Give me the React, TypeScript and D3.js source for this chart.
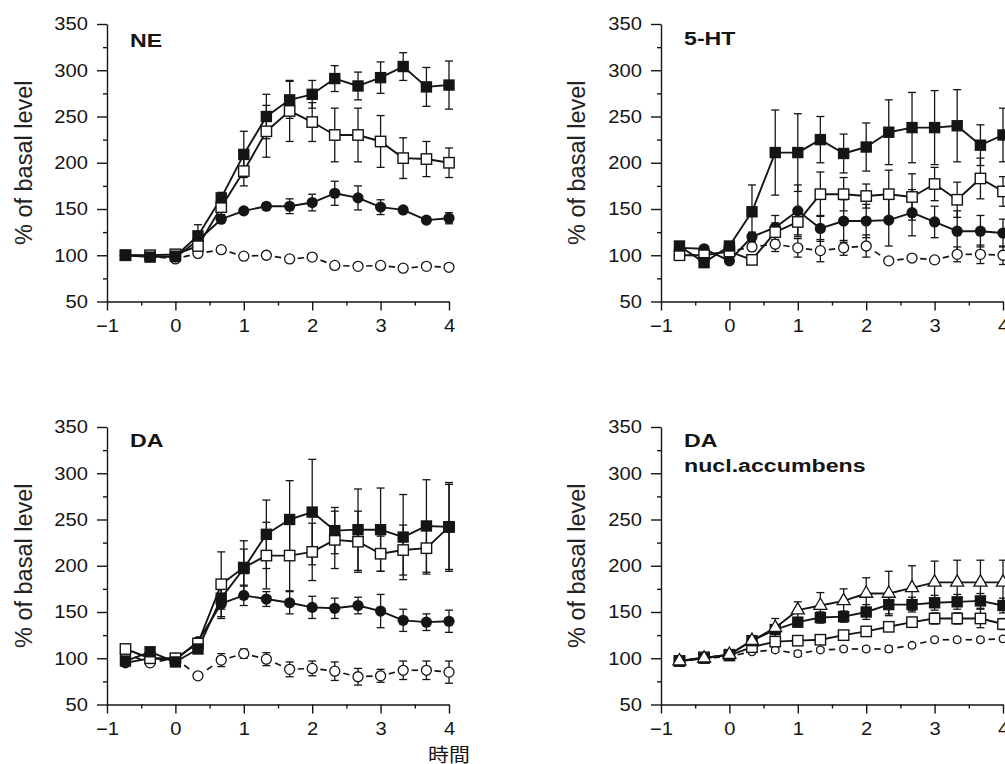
import { useEffect, useRef } from "react";
import * as d3 from "d3";

// sampling times in hours, drug given at t = 0
const TIME = [-0.73, -0.37, 0, 0.33, 0.67, 1, 1.33, 1.67, 2, 2.33, 2.67, 3, 3.33, 3.67, 4];

const Y_TICKS = [50, 100, 150, 200, 250, 300, 350];
const Y_MINOR = [75, 125, 175, 225, 275, 325];
const X_TICKS = [-1, 0, 1, 2, 3, 4];
const X_MINOR = [-0.5, 0.5, 1.5, 2.5, 3.5];

const Y_LABEL = "% of basal level";
const X_LABEL = "時間";

// NE
const neFilledSq = [100, 98, 99, 121, 162, 209, 250, 268, 274, 291, 283, 292, 304, 282, 284];
const neFilledSqErr = [2, 2, 2, 12, 6, 25, 24, 20, 15, 14, 15, 17, 15, 21, 26];
const neOpenSq = [100, 100, 101, 110, 152, 191, 234, 256, 244, 230, 230, 223, 205, 204, 200];
const neOpenSqErr = [2, 2, 2, 5, 8, 16, 28, 33, 21, 29, 29, 28, 22, 19, 16];
const neFilledCirc = [100, 99, 98, 116, 139, 148, 153, 153, 157, 167, 162, 152, 149, 138, 140];
const neFilledCircErr = [1, 1, 1, 2, 3, 3, 3, 8, 9, 13, 13, 8, 3, 3, 6];
const neOpenCirc = [100, 99, 96, 102, 106, 99, 100, 96, 98, 89, 88, 89, 86, 88, 87];
const neOpenCircErr = [0, 0, 0, 0, 0, 0, 0, 0, 0, 0, 0, 0, 0, 0, 0];

// 5-HT
const htFilledSq = [110, 92, 110, 147, 211, 211, 225, 210, 217, 233, 238, 238, 240, 219, 230];
const htFilledSqErr = [3, 3, 3, 29, 46, 42, 25, 21, 26, 35, 38, 40, 39, 22, 29];
const htOpenSq = [100, 100, 104, 95, 125, 136, 166, 166, 164, 166, 163, 177, 160, 183, 169];
const htOpenSqErr = [2, 2, 2, 3, 10, 14, 24, 18, 13, 26, 25, 18, 19, 22, 16];
const htFilledCirc = [108, 107, 94, 120, 130, 148, 129, 137, 137, 138, 146, 136, 126, 126, 124];
const htFilledCircErr = [2, 2, 2, 5, 13, 28, 14, 23, 18, 28, 25, 17, 22, 17, 15];
const htOpenCirc = [100, 100, 104, 109, 112, 108, 105, 108, 110, 94, 97, 95, 101, 101, 100];
const htOpenCircErr = [1, 1, 1, 4, 8, 10, 12, 8, 12, 3, 3, 3, 8, 10, 10];

// DA
const daFilledSq = [97, 107, 96, 110, 165, 197, 234, 250, 258, 238, 239, 239, 231, 243, 242];
const daFilledSqErr = [2, 2, 2, 4, 12, 30, 37, 42, 57, 25, 44, 45, 46, 50, 46];
const daOpenSq = [110, 100, 100, 116, 180, 198, 211, 211, 215, 228, 226, 213, 217, 219, 242];
const daOpenSqErr = [2, 2, 2, 4, 35, 20, 36, 38, 31, 31, 33, 19, 27, 28, 48];
const daFilledCirc = [95, 100, 98, 118, 159, 168, 164, 160, 155, 154, 157, 151, 141, 139, 140];
const daFilledCircErr = [2, 2, 2, 3, 16, 11, 8, 12, 12, 11, 9, 18, 12, 9, 12];
const daOpenCirc = [105, 95, 100, 81, 98, 105, 99, 88, 89, 86, 80, 81, 87, 87, 85];
const daOpenCircErr = [2, 2, 2, 3, 7, 5, 7, 8, 8, 10, 9, 7, 10, 10, 12];

// DA, nucl. accumbens
const naTriangle = [97, 100, 104, 119, 133, 152, 157, 162, 170, 170, 176, 182, 182, 182, 182];
const naTriangleErr = [1, 1, 1, 3, 10, 9, 14, 13, 17, 24, 24, 23, 24, 24, 24];
const naFilledSq = [97, 100, 104, 119, 131, 139, 144, 145, 150, 158, 158, 160, 161, 162, 157];
const naFilledSqErr = [1, 1, 1, 3, 5, 5, 6, 6, 8, 10, 8, 8, 8, 8, 8];
const naOpenSq = [97, 101, 103, 112, 118, 119, 120, 125, 129, 134, 139, 143, 143, 143, 137];
const naOpenSqErr = [1, 1, 1, 2, 3, 3, 3, 4, 4, 5, 5, 6, 6, 10, 6];
const naOpenCirc = [97, 100, 102, 107, 109, 105, 109, 110, 110, 110, 114, 120, 120, 120, 121];
const naOpenCircErr = [1, 1, 1, 2, 2, 3, 2, 2, 2, 3, 2, 2, 2, 2, 2];

type Marker = "filledSquare" | "openSquare" | "filledCircle" | "openCircle" | "openTriangle";

interface Series {
  marker: Marker;
  values: number[];
  err: number[];
  dashed?: boolean;
  small?: boolean;
}

interface Panel {
  title: string[];
  left: number;
  top: number;
  labelX: number;
  titleDy: number;
  series: Series[];
}

const PANELS: Panel[] = [
  {
    title: ["NE"], left: 107, top: 24, labelX: 32, titleDy: 23,
    series: [
      { marker: "openCircle", values: neOpenCirc, err: neOpenCircErr, dashed: true },
      { marker: "filledCircle", values: neFilledCirc, err: neFilledCircErr },
      { marker: "openSquare", values: neOpenSq, err: neOpenSqErr },
      { marker: "filledSquare", values: neFilledSq, err: neFilledSqErr },
    ],
  },
  {
    title: ["5-HT"], left: 661, top: 24, labelX: 585, titleDy: 21,
    series: [
      { marker: "openCircle", values: htOpenCirc, err: htOpenCircErr, dashed: true },
      { marker: "filledCircle", values: htFilledCirc, err: htFilledCircErr },
      { marker: "openSquare", values: htOpenSq, err: htOpenSqErr },
      { marker: "filledSquare", values: htFilledSq, err: htFilledSqErr },
    ],
  },
  {
    title: ["DA"], left: 107, top: 427, labelX: 32, titleDy: 20,
    series: [
      { marker: "openCircle", values: daOpenCirc, err: daOpenCircErr, dashed: true },
      { marker: "filledCircle", values: daFilledCirc, err: daFilledCircErr },
      { marker: "openSquare", values: daOpenSq, err: daOpenSqErr },
      { marker: "filledSquare", values: daFilledSq, err: daFilledSqErr },
    ],
  },
  {
    title: ["DA", "nucl.accumbens"], left: 661, top: 427, labelX: 585, titleDy: 20,
    series: [
      { marker: "openCircle", values: naOpenCirc, err: naOpenCircErr, dashed: true, small: true },
      { marker: "openSquare", values: naOpenSq, err: naOpenSqErr },
      { marker: "filledSquare", values: naFilledSq, err: naFilledSqErr },
      { marker: "openTriangle", values: naTriangle, err: naTriangleErr },
    ],
  },
];

const PLOT_W = 342;
const PLOT_H = 277.5;
const INK = "#151515";
const FONT = "'Liberation Sans', Arial, Helvetica, sans-serif";

// the printed lettering is a bit wider than Arial, so stretch it horizontally
function stretchText(sel: any, sx: number) {
  sel.selectAll("text").each(function (this: any) {
    const t = d3.select(this);
    const tx = +(t.attr("x") || 0);
    const ty = +(t.attr("y") || 0);
    t.attr("x", 0).attr("y", 0).attr("transform", `translate(${tx},${ty}) scale(${sx},1)`);
  });
}

function drawPanel(root: any, p: Panel) {
  const x = d3.scaleLinear().domain([-1, 4]).range([p.left, p.left + PLOT_W]);
  const y = d3.scaleLinear().domain([50, 350]).range([p.top + PLOT_H, p.top]);
  const g = root.append("g");

  // y axis, major + minor ticks
  g.append("g")
    .attr("transform", `translate(${p.left},0)`)
    .call(d3.axisLeft(y).tickValues(Y_TICKS).tickSize(10).tickSizeOuter(0).tickPadding(9).tickFormat(d3.format("d")))
    .attr("font-family", FONT).attr("font-size", 18).attr("color", INK)
    .call((s: any) => stretchText(s, 1.12));
  g.append("g")
    .attr("transform", `translate(${p.left},0)`)
    .call(d3.axisLeft(y).tickValues(Y_MINOR).tickSize(4).tickSizeOuter(0).tickFormat(() => ""))
    .attr("color", INK)
    .call((s: any) => s.select(".domain").remove());

  // x axis
  g.append("g")
    .attr("transform", `translate(0,${p.top + PLOT_H})`)
    .call(d3.axisBottom(x).tickValues(X_TICKS).tickSize(9).tickSizeOuter(0).tickPadding(9).tickFormat(d3.format("d")))
    .attr("font-family", FONT).attr("font-size", 18).attr("color", INK)
    .call((s: any) => stretchText(s, 1.12));
  g.append("g")
    .attr("transform", `translate(0,${p.top + PLOT_H})`)
    .call(d3.axisBottom(x).tickValues(X_MINOR).tickSize(4).tickSizeOuter(0).tickFormat(() => ""))
    .attr("color", INK)
    .call((s: any) => s.select(".domain").remove());

  g.selectAll(".domain, .tick line").attr("stroke-width", 1.4);

  // y label
  g.append("text")
    .attr("transform", `translate(${p.labelX},${p.top + PLOT_H / 2}) rotate(-90)`)
    .attr("text-anchor", "middle")
    .attr("font-family", FONT)
    .attr("font-size", 23.5)
    .attr("fill", "#222")
    .text(Y_LABEL);

  // panel title
  p.title.forEach((line, i) => {
    g.append("text")
      .attr("transform", `translate(${p.left + 23},${p.top + p.titleDy + i * 25}) scale(1.22,1)`)
      .attr("font-family", FONT)
      .attr("font-weight", "bold")
      .attr("font-size", 19)
      .attr("fill", INK)
      .text(line);
  });

  const idx = d3.range(TIME.length);

  // error bars
  p.series.forEach((s) => {
    const bars = g.append("g").attr("stroke", INK).attr("stroke-width", 1.3);
    idx.filter((i) => s.err[i] > 1.5).forEach((i) => {
      const cx = x(TIME[i]);
      const hi = y(s.values[i] + s.err[i]);
      const lo = y(s.values[i] - s.err[i]);
      bars.append("line").attr("x1", cx).attr("x2", cx).attr("y1", hi).attr("y2", lo);
      bars.append("line").attr("x1", cx - 4).attr("x2", cx + 4).attr("y1", hi).attr("y2", hi);
      bars.append("line").attr("x1", cx - 4).attr("x2", cx + 4).attr("y1", lo).attr("y2", lo);
    });
  });

  // connecting lines
  p.series.forEach((s) => {
    if (s.dashed) {
      // one short dash centred between neighbouring circles
      idx.slice(1).forEach((i) => {
        const x0 = x(TIME[i - 1]), y0 = y(s.values[i - 1]);
        const x1 = x(TIME[i]), y1 = y(s.values[i]);
        const mx = (x0 + x1) / 2, my = (y0 + y1) / 2;
        const len = Math.hypot(x1 - x0, y1 - y0);
        const ux = (x1 - x0) / len, uy = (y1 - y0) / len;
        g.append("line")
          .attr("x1", mx - ux * 3.2).attr("y1", my - uy * 3.2)
          .attr("x2", mx + ux * 3.2).attr("y2", my + uy * 3.2)
          .attr("stroke", INK).attr("stroke-width", 1.7);
      });
    } else {
      const line = d3.line<number>().x((i) => x(TIME[i])).y((i) => y(s.values[i]));
      g.append("path")
        .attr("d", line(idx))
        .attr("fill", "none")
        .attr("stroke", INK)
        .attr("stroke-width", 1.9)
        .attr("stroke-linejoin", "round");
    }
  });

  // markers
  p.series.forEach((s) => {
    const m = g.append("g");
    idx.forEach((i) => {
      const cx = x(TIME[i]);
      const cy = y(s.values[i]);
      if (s.marker === "filledSquare") {
        m.append("rect").attr("x", cx - 5.7).attr("y", cy - 5.7).attr("width", 11.4).attr("height", 11.4).attr("fill", INK);
      } else if (s.marker === "openSquare") {
        m.append("rect").attr("x", cx - 5.2).attr("y", cy - 5.2).attr("width", 10.4).attr("height", 10.4)
          .attr("fill", "#fff").attr("stroke", INK).attr("stroke-width", 1.4);
      } else if (s.marker === "filledCircle") {
        m.append("circle").attr("cx", cx).attr("cy", cy).attr("r", 5.6).attr("fill", INK);
      } else if (s.marker === "openCircle") {
        m.append("circle").attr("cx", cx).attr("cy", cy).attr("r", s.small ? 3.8 : 5.0)
          .attr("fill", "#fff").attr("stroke", INK).attr("stroke-width", 1.3);
      } else {
        m.append("path")
          .attr("transform", `translate(${cx},${cy})`)
          .attr("d", d3.symbol(d3.symbolTriangle, 74)())
          .attr("fill", "#fff").attr("stroke", INK).attr("stroke-width", 1.3);
      }
    });
  });

  return x;
}

export default function App() {
  const ref = useRef<SVGSVGElement>(null);

  useEffect(() => {
    const svg = d3.select(ref.current);
    svg.selectAll("*").remove();
    const root = svg.append("g");
    const scales = PANELS.map((p) => drawPanel(root, p));

    // time axis caption under the lower-left panel
    root.append("text")
      .attr("transform", `translate(${scales[2](4)},762) scale(1.1,1)`)
      .attr("text-anchor", "middle")
      .attr("font-family", "'Noto Sans CJK JP', sans-serif")
      .attr("font-size", 19)
      .attr("fill", INK)
      .text(X_LABEL);
  }, []);

  return (
    <div style={{ position: "absolute", left: 0, top: 0 }}>
      <svg ref={ref} width={1005} height={764} style={{ display: "block", background: "#fff" }} />
    </div>
  );
}
